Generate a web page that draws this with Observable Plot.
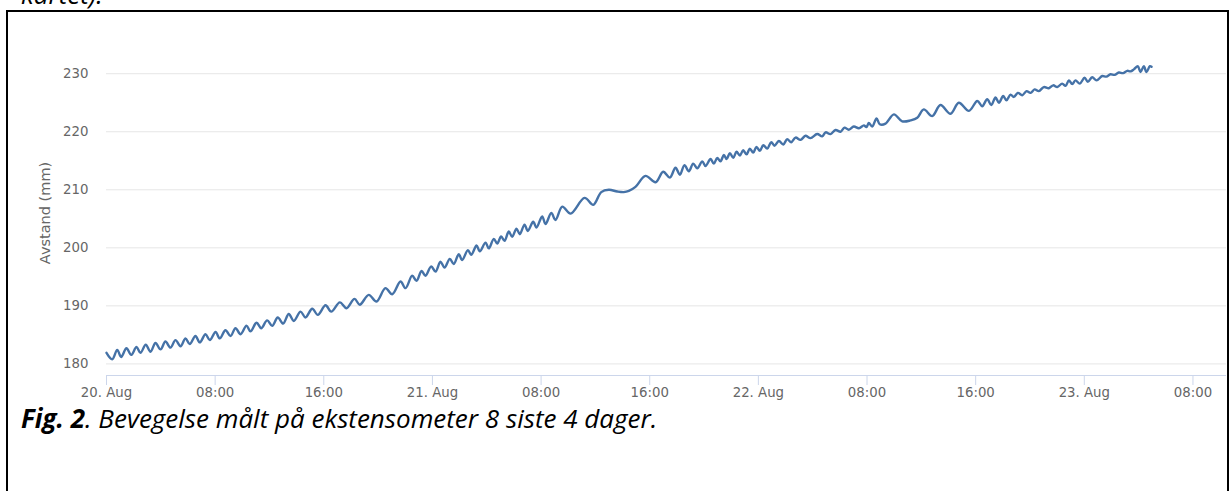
<!DOCTYPE html>
<html><head><meta charset="utf-8">
<script src="https://cdn.jsdelivr.net/npm/d3@7"></script>
<script src="https://cdn.jsdelivr.net/npm/@observablehq/plot@0.6"></script>
<style>
html,body{margin:0;padding:0;background:#fff;}
body{width:1231px;height:491px;position:relative;overflow:hidden;}
#chart{position:absolute;left:0;top:0;}
.border{position:absolute;background:#000;z-index:2;}
.doc{position:absolute;font-family:"Open Sans",sans-serif;font-style:italic;color:#000;white-space:nowrap;z-index:3;font-size:26px;line-height:26px;}
#prev{left:21px;top:-19px;}
#caption{left:21px;top:405px;}
</style></head><body>
<div class="doc" id="prev">kartet).</div>
<div class="border" style="left:6px;top:10px;width:1223px;height:2px"></div>
<div class="border" style="left:6px;top:10px;width:2px;height:481px"></div>
<div class="border" style="left:1227px;top:10px;width:2px;height:481px"></div>
<div id="chart"></div>
<div class="doc" id="caption"><b>Fig. 2</b>. Bevegelse målt på ekstensometer 8 siste 4 dager.</div>
<script>
// hours since 20. Aug 00:00
const hours = [0,0.42,0.79,1.08,1.47,1.82,2.21,2.50,2.89,3.24,3.61,3.98,4.34,4.71,5.08,5.45,5.82,6.13,6.55,6.87,7.29,7.61,8.03,8.34,8.76,9.13,9.50,9.87,10.31,10.60,11.05,11.39,11.83,12.20,12.61,13.01,13.42,13.79,14.29,14.65,15.15,15.56,16.13,16.55,17.18,17.67,18.26,18.65,
19.31,19.88,20.54,21.04,21.65,22.02,22.51,22.83,23.20,23.49,23.91,24.23,24.59,24.89,25.28,25.57,25.94,26.19,26.61,26.86,27.25,27.49,27.91,28.15,28.52,28.77,29.06,29.31,29.62,29.87,30.19,30.43,30.78,31.02,31.42,31.66,32.08,32.33,32.75,33.06,33.56,34.17,35.20,35.84,36.43,36.99,37.61,38.09,
38.46,38.95,39.69,40.43,40.99,41.48,41.90,42.22,42.56,42.88,43.20,43.50,43.87,44.11,44.48,44.72,44.97,45.21,45.46,45.66,45.90,46.15,46.39,46.64,46.88,47.13,47.37,47.62,47.86,48.11,48.36,48.65,48.95,49.19,49.51,49.83,50.12,50.42,50.74,51.10,51.47,51.84,52.33,52.70,52.95,53.31,53.68,54.05,54.34,54.66,55.03,55.40,55.77,55.96,56.13,56.38,56.70,56.94,
57.36,57.98,58.59,59.20,59.70,60.18,60.80,61.41,62.15,62.76,63.50,64.12,64.48,64.85,65.15,65.46,65.71,66.03,66.27,66.57,66.81,67.11,67.43,67.75,68.04,68.34,68.65,69.02,69.39,69.71,70.01,70.37,70.62,70.86,71.11,71.35,71.67,72.02,72.26,72.58,72.90,73.32,73.62,73.93,74.23,74.54,74.85,75.16,75.40,75.65,75.94,76.14,76.38,76.58,76.83,76.95];
// Avstand (mm)
const distance = [181.9,180.8,182.4,181.2,182.7,181.55,182.9,181.9,183.3,182.1,183.6,182.5,183.85,182.8,184.1,183.05,184.4,183.4,184.8,183.7,185.1,184.1,185.5,184.4,185.8,184.8,186.15,185.1,186.6,185.6,187.1,186.15,187.5,186.55,188.0,186.95,188.6,187.4,189.0,188.0,189.5,188.45,190.1,189.0,190.6,189.6,191.2,190.2,
191.9,190.75,193.05,192.0,194.2,193.05,195.2,194.3,196.0,195.2,196.8,195.9,197.6,196.6,198.1,197.2,198.9,197.9,199.6,198.8,200.4,199.4,200.9,199.9,201.55,200.75,201.95,201.2,202.8,201.9,203.3,202.35,204.0,202.9,204.5,203.5,205.4,204.1,206.0,204.8,207.1,205.9,208.6,207.4,209.6,210.0,209.7,209.6,
209.8,210.5,212.4,211.3,213.1,212.1,213.8,212.6,214.25,213.2,214.5,213.7,214.9,214.1,215.3,214.5,215.5,214.9,216.0,215.3,216.3,215.5,216.55,215.9,216.8,216.1,217.1,216.4,217.4,216.7,217.7,217.1,218.2,217.6,218.4,217.8,218.7,218.2,219.0,218.6,219.3,218.9,219.6,219.2,219.9,219.6,220.3,220.0,220.7,220.35,220.9,220.6,221.1,220.8,221.5,220.9,222.3,221.3,
221.4,223.0,221.8,221.95,222.4,223.85,222.7,224.6,223.1,225.0,223.6,225.3,224.4,225.6,224.6,225.9,225.0,226.15,225.4,226.4,226.0,226.7,226.3,227.0,226.7,227.3,227.0,227.7,227.5,228.0,227.7,228.3,227.9,228.85,228.2,228.85,228.3,229.3,228.6,229.4,228.85,229.6,229.5,229.9,229.8,230.2,230.1,230.5,230.4,230.75,231.3,230.3,231.3,230.3,231.3,231.2];

const xTickHours = [0,8,16,24,32,40,48,56,64,72,80];
const xTickLabels = ["20. Aug","08:00","16:00","21. Aug","08:00","16:00","22. Aug","08:00","16:00","23. Aug","08:00"];
const yTicks = [180,190,200,210,220,230];
const yDomain = [178,234];
const xDomainHours = [0,82.47];
const yTitle = "Avstand (mm)";

const start = Date.UTC(2016,7,20);
const toDate = h => new Date(start + h*3600e3);
const data = hours.map((h,i)=>({t: toDate(h), v: distance[i]}));
const tickDates = xTickHours.map(toDate);
const labelByTime = new Map(tickDates.map((d,i)=>[+d, xTickLabels[i]]));

const chart = Plot.plot({
  width: 1231, height: 410,
  marginLeft: 106, marginRight: 5, marginTop: 50, marginBottom: 35,
  style: {fontFamily: "DejaVu Sans", fontSize: "13.3px", background: "transparent", color: "#666666"},
  x: {type: "utc", domain: xDomainHours.map(toDate)},
  y: {domain: yDomain},
  marks: [
    Plot.gridY(yTicks, {stroke: "#e6e6e6", strokeOpacity: 1}),
    Plot.ruleY([yDomain[0]], {stroke: "#ccd6eb"}),
    Plot.axisY(yTicks, {tickSize: 0, tickPadding: 18, fill: "#666666", label: null}),
    Plot.axisX(tickDates, {tickSize: 10, tickPadding: 2, stroke: "#ccd6eb", fill: "#666666", tickFormat: d => labelByTime.get(+d), label: null}),
    Plot.text([yTitle], {text: d => d, frameAnchor: "left", dx: -61.5, rotate: -90, textAnchor: "middle", lineAnchor: "middle", fontSize: 14.5, fill: "#666666"}),
    Plot.line(data, {x: "t", y: "v", stroke: "#4572a7", strokeWidth: 2.4, curve: "catmull-rom"})
  ]
});
document.getElementById("chart").appendChild(chart);
</script>
</body></html>
